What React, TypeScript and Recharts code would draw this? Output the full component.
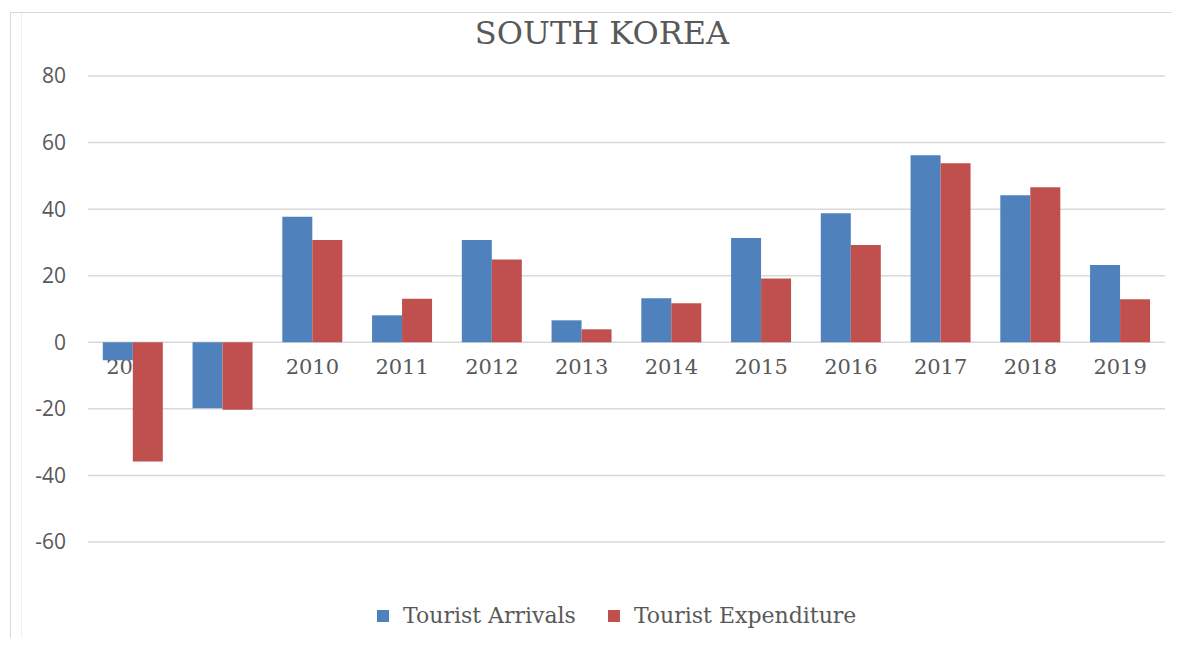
import React from "react";
import { Bar, BarChart, CartesianGrid, Legend, XAxis, YAxis } from "recharts";

const years = ["2008", "2009", "2010", "2011", "2012", "2013", "2014", "2015", "2016", "2017", "2018", "2019"];
const arrivals = [-5.4, -19.8, 37.7, 8.1, 30.7, 6.6, 13.2, 31.3, 38.8, 56.2, 44.2, 23.2];
const expenditure = [-35.8, -20.3, 30.7, 13.1, 24.9, 3.9, 11.7, 19.2, 29.2, 53.8, 46.6, 12.9];
const yTicks = [-60, -40, -20, 0, 20, 40, 60, 80];

const W = 1180;
const H = 646;
const TOP = 76;
const BOTTOM = 104;
const LEFT = 88;
const RIGHT = 15;
const X_AXIS_H = 20;
const PLOT_H = H - TOP - BOTTOM;
// category labels sit under the zero line, not at the bottom of the plot (Excel style)
const ZERO_FROM_BOTTOM = (PLOT_H * 60) / 140;

const BLUE = "#4F81BD";
const RED = "#C0504D";
const TEXT = "#595959";

const data = years.map((year, i) => ({ year, arrivals: arrivals[i], expenditure: expenditure[i] }));

function YearTick({ x, y, payload }: any) {
    return (
        <text
            x={x}
            y={y - ZERO_FROM_BOTTOM + 25}
            textAnchor="middle"
            dominantBaseline="central"
            fill={TEXT}
            fontSize={21}
            fontFamily="DejaVu Serif"
        >
            {payload.value}
        </text>
    );
}

function LegendRow({ payload }: any) {
    return (
        <div style={{ display: "flex", alignItems: "center", fontFamily: "DejaVu Serif", fontSize: 22, color: TEXT }}>
            {(payload || []).map((p: any, i: number) => (
                <div key={p.value} style={{ display: "flex", alignItems: "center", marginRight: i === 0 ? 32 : 0 }}>
                    <span style={{ width: 12, height: 12, background: p.color, marginRight: 14, display: "inline-block" }} />
                    <span>{p.value}</span>
                </div>
            ))}
        </div>
    );
}

export default function App() {
    return (
        <div style={{ margin: -8, width: W, height: H, position: "relative", background: "#fff", overflow: "hidden" }}>
            <div
                style={{
                    position: "absolute",
                    left: 10,
                    top: 12,
                    right: 0,
                    bottom: 0,
                    borderLeft: "1px solid #d9d9d9",
                    borderTop: "1px solid #d9d9d9",
                }}
            />
            <div style={{ position: "absolute", left: 21, top: 13, bottom: 0, borderLeft: "1px solid #f0f0f0" }} />
            <div
                style={{
                    position: "absolute",
                    left: 0,
                    width: 1204,
                    top: 14,
                    textAlign: "center",
                    fontFamily: "DejaVu Serif",
                    fontSize: 32,
                    color: TEXT,
                    lineHeight: "38px",
                }}
            >
                SOUTH KOREA
            </div>

            {/* back layer: year labels only, so the bars paint over them */}
            <div style={{ position: "absolute", left: 0, top: 0 }}>
                <BarChart
                    width={W}
                    height={H}
                    data={data}
                    margin={{ top: TOP, right: RIGHT, bottom: BOTTOM - X_AXIS_H, left: LEFT }}
                >
                    <XAxis
                        dataKey="year"
                        height={X_AXIS_H}
                        axisLine={false}
                        tickLine={false}
                        tickSize={0}
                        tickMargin={0}
                        interval={0}
                        tick={(props: any) => <YearTick {...props} />}
                    />
                </BarChart>
            </div>

            {/* front layer: grid, value axis, bars and legend */}
            <div style={{ position: "absolute", left: 0, top: 0 }}>
                <BarChart
                    width={W}
                    height={H}
                    data={data}
                    margin={{ top: TOP, right: RIGHT, bottom: BOTTOM, left: 0 }}
                    barCategoryGap="16.5%"
                    barGap={0}
                >
                    <CartesianGrid vertical={false} stroke="#d9d9d9" strokeWidth={1.5} />
                    <YAxis
                        domain={[-60, 80]}
                        ticks={yTicks}
                        width={LEFT}
                        axisLine={false}
                        tickLine={false}
                        tickSize={0}
                        tickMargin={22}
                        tick={{ fill: TEXT, fontSize: 21, fontFamily: "Open Sans" }}
                    />
                    <XAxis hide dataKey="year" />
                    <Bar dataKey="arrivals" name="Tourist Arrivals" fill={BLUE} isAnimationActive={false} />
                    <Bar dataKey="expenditure" name="Tourist Expenditure" fill={RED} isAnimationActive={false} />
                    <Legend
                        layout="horizontal"
                        verticalAlign="middle"
                        align="center"
                        content={<LegendRow />}
                        wrapperStyle={{ top: 603, left: 377, width: 600, height: 28 }}
                    />
                </BarChart>
            </div>
        </div>
    );
}
